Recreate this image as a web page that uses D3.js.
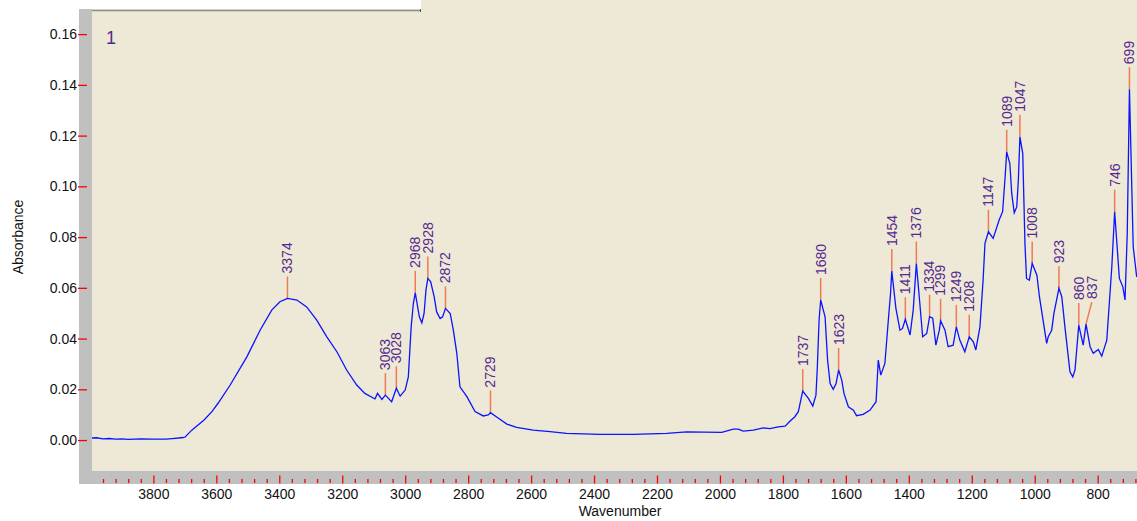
<!DOCTYPE html>
<html>
<head>
<meta charset="utf-8">
<script src="https://cdn.jsdelivr.net/npm/d3@7"></script>
<style>
  body { margin: 0; background: #ffffff; }
  svg text { font-family: "Liberation Sans", Arial, sans-serif; }
</style>
</head>
<body>
<svg id="chart" width="1137" height="521"></svg>
<script>
// spectrum: wavenumber (cm-1) and absorbance
var wavenumber = [3995, 3980, 3960, 3940, 3920, 3900, 3880, 3860, 3840, 3800, 3760, 3740, 3720, 3705, 3699,
  3678, 3639, 3614, 3594, 3556, 3503, 3461, 3424, 3398, 3374, 3344, 3313, 3281, 3249, 3217, 3186, 3154, 3128,
  3096, 3088, 3074, 3063, 3043, 3028, 3016, 3000, 2990, 2981, 2974, 2968, 2955, 2947, 2940, 2934, 2928, 2919,
  2908, 2900, 2889, 2881, 2872, 2857, 2847, 2836, 2826, 2804, 2778, 2752, 2736, 2729, 2699, 2677, 2646, 2593,
  2540, 2487, 2381, 2275, 2169, 2106, 1994, 1958, 1942, 1926, 1894, 1862, 1841, 1815, 1793, 1777, 1762, 1751,
  1737, 1719, 1705, 1695, 1691, 1685, 1680, 1666, 1658, 1650, 1640, 1631, 1623, 1613, 1606, 1592, 1576, 1566,
  1545, 1523, 1504, 1497, 1489, 1476, 1465, 1458, 1454, 1441, 1428, 1420, 1411, 1396, 1386, 1376, 1365, 1356,
  1343, 1334, 1324, 1314, 1303, 1299, 1285, 1275, 1259, 1249, 1238, 1222, 1208, 1195, 1187, 1174, 1164, 1158,
  1147, 1132, 1113, 1102, 1094, 1089, 1079, 1073, 1065, 1057, 1052, 1047, 1038, 1031, 1026, 1017, 1008, 993,
  985, 962, 957, 946, 939, 923, 914, 904, 888, 879, 872, 860, 846, 837, 824, 814, 798, 787, 771, 755, 746,
  731, 720, 713, 706, 699, 687, 676];
var absorbance = [0.0008, 0.0009, 0.0005, 0.0006, 0.0004, 0.0005, 0.0003, 0.0004, 0.0005, 0.0004, 0.0004, 0.0006, 0.0008, 0.0010, 0.0012,
  0.0039, 0.0079, 0.0112, 0.0146, 0.0217, 0.0328, 0.0433, 0.0512, 0.0545, 0.0558, 0.0552, 0.0525, 0.0473, 0.0407, 0.0348, 0.0276, 0.0217, 0.0184,
  0.0162, 0.0184, 0.0160, 0.0177, 0.0151, 0.0204, 0.0173, 0.0197, 0.0249, 0.0446, 0.0539, 0.0580, 0.0486, 0.0462, 0.0499, 0.0591, 0.0637, 0.0624,
  0.0565, 0.0505, 0.0479, 0.0486, 0.0519, 0.0499, 0.0433, 0.0342, 0.0210, 0.0171, 0.0112, 0.0095, 0.0099, 0.0108, 0.0082, 0.0063, 0.0050, 0.0039,
  0.0033, 0.0026, 0.0022, 0.0022, 0.0026, 0.0032, 0.0030, 0.0043, 0.0043, 0.0035, 0.0039, 0.0048, 0.0045, 0.0052, 0.0055, 0.0075, 0.0092, 0.0112,
  0.0193, 0.0164, 0.0134, 0.0177, 0.0276, 0.0473, 0.0552, 0.0486, 0.0315, 0.0223, 0.0200, 0.0223, 0.0276, 0.0236, 0.0184, 0.0131, 0.0118, 0.0096,
  0.0101, 0.0118, 0.0151, 0.0315, 0.0256, 0.0302, 0.0473, 0.0578, 0.0666, 0.0519, 0.0433, 0.0440, 0.0476, 0.0414, 0.0512, 0.0696, 0.0539, 0.0407,
  0.0420, 0.0486, 0.0480, 0.0374, 0.0433, 0.0470, 0.0433, 0.0368, 0.0374, 0.0446, 0.0394, 0.0348, 0.0407, 0.0387, 0.0355, 0.0446, 0.0630, 0.0775,
  0.0821, 0.0795, 0.0867, 0.0900, 0.1037, 0.1136, 0.1090, 0.0972, 0.0896, 0.0919, 0.1024, 0.1195, 0.1130, 0.0775, 0.0637, 0.0630, 0.0696, 0.0650,
  0.0565, 0.0381, 0.0407, 0.0433, 0.0499, 0.0598, 0.0565, 0.0446, 0.0269, 0.0249, 0.0276, 0.0453, 0.0374, 0.0457, 0.0368, 0.0342, 0.0357, 0.0331, 0.0394, 0.0683, 0.0900,
  0.0637, 0.0604, 0.0552, 0.0814, 0.1383, 0.0762, 0.0643];

// labelled peaks
var peakLabels = [3374, 3063, 3028, 2968, 2928, 2872, 2729, 1737, 1680, 1623, 1454, 1411, 1376,
  1334, 1299, 1249, 1208, 1147, 1089, 1047, 1008, 923, 860, 837, 746, 699];

var xMajorTicks = [3800, 3600, 3400, 3200, 3000, 2800, 2600, 2400, 2200, 2000, 1800, 1600, 1400, 1200, 1000, 800];
var yTicks = [0.00, 0.02, 0.04, 0.06, 0.08, 0.10, 0.12, 0.14, 0.16];
var spectrumName = "1";

var data = wavenumber.map(function(w, i) { return {wn: w, a: absorbance[i]}; });

var plot = {left: 92, right: 1137, top: 0, bottom: 471};

var x = d3.scaleLinear().domain([3995, 675]).range([plot.left, plot.right]);
var y = d3.scaleLinear().domain([-0.0122, 0.1699]).range([plot.bottom, 9]);

var svg = d3.select("#chart");

// frame pieces
svg.append("rect").attr("x", plot.left).attr("y", 0)
    .attr("width", plot.right - plot.left).attr("height", plot.bottom)
    .attr("fill", "#eee9d6");
svg.append("rect").attr("x", 0).attr("y", 0).attr("width", 421).attr("height", 9).attr("fill", "#ffffff");
svg.append("line").attr("x1", plot.left).attr("x2", 420).attr("y1", 10.5).attr("y2", 10.5)
    .attr("stroke", "#8c8c8c").attr("stroke-width", 1.5);
svg.append("line").attr("x1", 420.5).attr("x2", 420.5).attr("y1", 9).attr("y2", 12)
    .attr("stroke", "#555").attr("stroke-width", 1);
svg.append("rect").attr("x", 79).attr("y", 9).attr("width", plot.left - 79).attr("height", 475 - 9)
    .attr("fill", "#c0c0c0");
svg.append("rect").attr("x", 79).attr("y", plot.bottom).attr("width", plot.right - 79).attr("height", 13)
    .attr("fill", "#c0c0c0");

// minor x ticks every 40
var xMinorTicks = d3.range(680, 4000, 40).filter(function(v) { return v % 200 != 0; });
svg.append("g")
    .attr("transform", "translate(0,479)")
    .call(d3.axisBottom(x).tickValues(xMinorTicks).tickSize(4).tickFormat(""))
    .call(function(g) { g.select(".domain").remove(); })
    .selectAll("line").attr("stroke", "#ff0000").attr("stroke-width", 1.3);

// major x ticks
var xAxis = svg.append("g")
    .attr("transform", "translate(0,475.5)")
    .call(d3.axisBottom(x).tickValues(xMajorTicks).tickSize(8).tickPadding(6).tickFormat(d3.format("d")));
xAxis.select(".domain").remove();
xAxis.selectAll("line").attr("stroke", "#ff0000").attr("stroke-width", 1.3);
xAxis.selectAll("text").attr("font-size", "14px").attr("fill", "#111")
    .style("font-family", "'Liberation Sans', Arial, sans-serif");

// y axis
var yAxis = svg.append("g")
    .attr("transform", "translate(87,0)")
    .call(d3.axisLeft(y).tickValues(yTicks).tickSize(9).tickPadding(1).tickFormat(d3.format(".2f")));
yAxis.select(".domain").remove();
yAxis.selectAll("line").attr("stroke", "#ff0000").attr("stroke-width", 1.3);
yAxis.selectAll("text").attr("font-size", "14px").attr("fill", "#111")
    .style("font-family", "'Liberation Sans', Arial, sans-serif");

// axis titles
svg.append("text")
    .attr("x", 620).attr("y", 515.5)
    .attr("text-anchor", "middle")
    .attr("font-size", "14px").attr("fill", "#111")
    .text("Wavenumber");

svg.append("text")
    .attr("transform", "translate(23," + 237 + ") rotate(-90)")
    .attr("text-anchor", "middle")
    .attr("font-size", "14px").attr("fill", "#111")
    .text("Absorbance");

// spectrum name
svg.append("text")
    .attr("x", 106).attr("y", 44)
    .attr("font-size", "18px").attr("fill", "#4e2a8e")
    .text(spectrumName);

// peak markers: height comes from the spectrum near the labelled wavenumber
var clip = svg.append("clipPath").attr("id", "plotclip")
    .append("rect").attr("x", plot.left).attr("y", 0)
    .attr("width", plot.right - plot.left).attr("height", plot.bottom);

var markers = [];
var prevX = -100;
peakLabels.forEach(function(p) {
  var near = data.filter(function(d) { return Math.abs(d.wn - p) <= 6; });
  var top = d3.max(near, function(d) { return d.a; });
  var px = x(p);
  var lx = px;
  // nudge labels that would sit on top of the previous one
  if (lx - prevX < 10) lx = prevX + 13;
  prevX = lx;
  markers.push({wn: p, px: px, py: y(top), lx: lx});
});

var mg = svg.append("g");
mg.selectAll("line")
    .data(markers)
    .enter().append("line")
    .attr("x1", function(d) { return d.px; })
    .attr("y1", function(d) { return d.py; })
    .attr("x2", function(d) { return d.lx; })
    .attr("y2", function(d) { return d.py - 22; })
    .attr("stroke", "#f07a55")
    .attr("stroke-width", 1.5);

mg.selectAll("text")
    .data(markers)
    .enter().append("text")
    .attr("transform", function(d) { return "translate(" + d.lx + "," + (d.py - 25) + ") rotate(-90)"; })
    .attr("dy", "0.35em")
    .attr("font-size", "14px")
    .attr("fill", "#55288f")
    .text(function(d) { return d.wn; });

// the spectrum
var line = d3.line()
    .x(function(d) { return x(d.wn); })
    .y(function(d) { return y(d.a); });

svg.append("path")
    .datum(data)
    .attr("clip-path", "url(#plotclip)")
    .attr("fill", "none")
    .attr("stroke", "#0a14ff")
    .attr("stroke-width", 1.3)
    .attr("d", line);
</script>
</body>
</html>
